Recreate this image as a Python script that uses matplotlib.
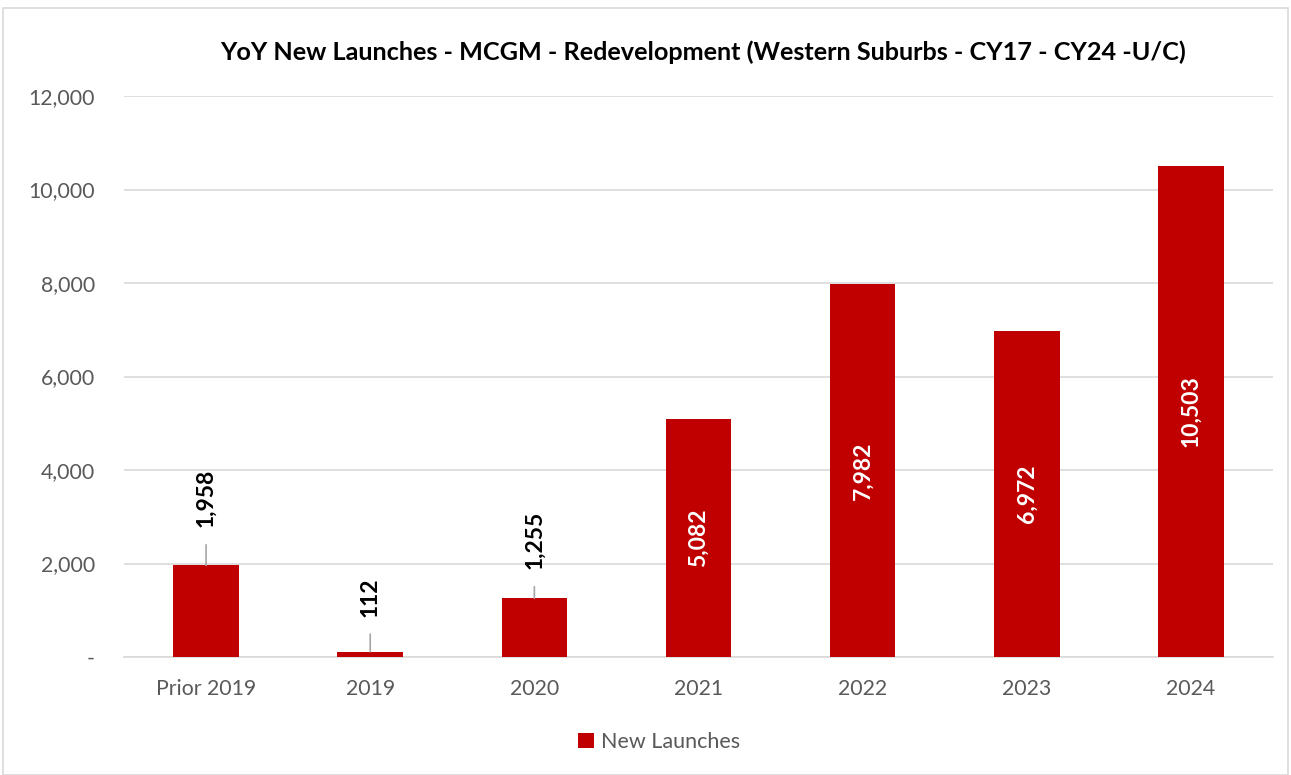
import matplotlib
matplotlib.use("Agg")
import matplotlib.pyplot as plt
from matplotlib.ticker import FuncFormatter
from matplotlib.patches import Rectangle

categories = ["Prior 2019", "2019", "2020", "2021", "2022", "2023", "2024"]
values = [1958, 112, 1255, 5082, 7982, 6972, 10503]
series_name = "New Launches"
title = "YoY New Launches - MCGM - Redevelopment (Western Suburbs - CY17 - CY24 -U/C)"

# label placement: outside (with leader) for small bars, inside for large
outside_offsets_px = {0: 38, 1: 35, 2: 29}

plt.rcParams['font.family'] = ['Lato', 'DejaVu Sans']

fig = plt.figure(figsize=(12.91, 7.75), dpi=100)
fig.patches.append(Rectangle((3/1291, 0), 1 - 6/1291, 1 - 8/775, transform=fig.transFigure,
                             fill=False, edgecolor='#d9d9d9', linewidth=1.2))
ax = fig.add_axes([124/1291, 1 - 657/775, (1273 - 124)/1291, (657 - 96)/775])

bar_color = '#c00000'
x = list(range(len(categories)))
bars = ax.bar(x, values, width=0.40, color=bar_color, label=series_name, zorder=3)

ax.set_xlim(-0.5, len(categories) - 0.5)
ax.set_ylim(0, 12000)
ax.set_yticks(range(0, 12001, 2000))
ax.yaxis.set_major_formatter(FuncFormatter(lambda v, p: "-" if v == 0 else f"{int(v):,}"))
ax.set_xticks(x)
ax.set_xticklabels(categories)
ax.grid(axis='y', color='#d9d9d9', linewidth=1.2, zorder=0)
for s in ['top', 'right', 'left']:
    ax.spines[s].set_visible(False)
ax.spines['bottom'].set_color('#d9d9d9')
ax.spines['bottom'].set_linewidth(1.2)
ax.tick_params(axis='both', length=0, colors='#595959', labelsize=15.3)
ax.tick_params(axis='y', pad=21)
ax.tick_params(axis='x', pad=16)

for i, v in enumerate(values):
    if i in outside_offsets_px:
        off = outside_offsets_px[i]
        ax.annotate(f"{v:,}", xy=(i, v), xytext=(0, off), textcoords='offset pixels',
                    rotation=90, ha='center', va='bottom', fontsize=16.5, fontweight='bold',
                    color='black',
                    arrowprops=dict(arrowstyle='-', color='#a6a6a6', lw=1.2,
                                    shrinkA=10.5, shrinkB=0))
    else:
        ax.text(i, v / 2, f"{v:,}", rotation=90, ha='center', va='center',
                fontsize=16.5, fontweight='bold', color='white', zorder=4)

fig.text(703/1291, 1 - 52/775, title, ha='center', va='center', fontsize=18.2,
         fontweight='bold', color='black')

leg = fig.legend(handles=[bars], labels=[series_name], loc='center',
                 bbox_to_anchor=(659/1291, 1 - 742/775), frameon=False, fontsize=15.5,
                 handlelength=0.75, handleheight=0.75, handletextpad=0.35)
for t in leg.get_texts():
    t.set_color('#595959')

fig.savefig("out.png", dpi=100)
